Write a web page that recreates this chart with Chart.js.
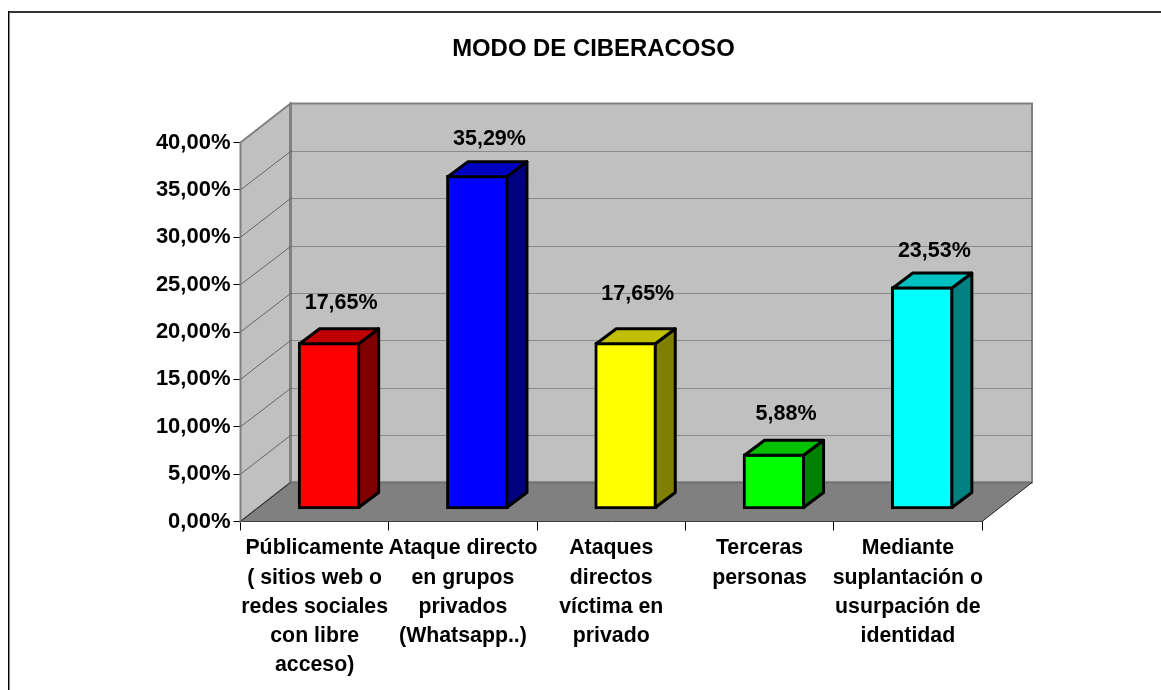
<!DOCTYPE html>
<html>
<head>
<meta charset="utf-8">
<script src="https://cdn.jsdelivr.net/npm/chart.js@4"></script>
<style>
html, body { margin: 0; padding: 0; background: #fff; }
#wrap { position: absolute; left: 0; top: 0; width: 1161px; height: 690px; }
</style>
</head>
<body>
<div id="wrap"><canvas id="ciberacoso" width="1161" height="690"></canvas></div>
<script>
const categories = [
    ['Públicamente', '( sitios web o', 'redes sociales', 'con libre', 'acceso)'],
    ['Ataque directo', 'en grupos', 'privados', '(Whatsapp..)'],
    ['Ataques', 'directos', 'víctima en', 'privado'],
    ['Terceras', 'personas'],
    ['Mediante', 'suplantación o', 'usurpación de', 'identidad']
];
const values = [17.65, 35.29, 17.65, 5.88, 23.53];
const frontColors = ['#ff0000', '#0000ff', '#ffff00', '#00ff00', '#00ffff'];
const topColors = ['#c00000', '#0000c0', '#c0c000', '#00c000', '#00c0c0'];
const sideColors = ['#800000', '#000080', '#808000', '#008000', '#008080'];
const yTicks = [0, 5, 10, 15, 20, 25, 30, 35, 40];

// Etiketit eivät ole samalla korkeudella pylväisiin nähden alkuperäisessä kuvassa
const labelRise = [39.5, 36.5, 48.5, 39.5, 35.5];

const fontFamily = '"Liberation Sans", Arial, sans-serif';
const formatPct = v => v.toFixed(2).replace('.', ',') + '%';

const wallDepth = { x: 50, y: -39 };
const barShift = { x: 14.5, y: -12 };
const barDepth = { x: 20, y: -15 };

function poly(ctx, pts, fill, stroke, lineWidth) {
    ctx.beginPath();
    pts.forEach((p, i) => i ? ctx.lineTo(p[0], p[1]) : ctx.moveTo(p[0], p[1]));
    ctx.closePath();
    if (fill) { ctx.fillStyle = fill; ctx.fill(); }
    if (stroke) { ctx.strokeStyle = stroke; ctx.lineWidth = lineWidth; ctx.stroke(); }
}

function line(ctx, x1, y1, x2, y2, color, width, dash) {
    ctx.beginPath();
    ctx.setLineDash(dash || []);
    ctx.moveTo(x1, y1);
    ctx.lineTo(x2, y2);
    ctx.strokeStyle = color;
    ctx.lineWidth = width;
    ctx.stroke();
    ctx.setLineDash([]);
}

// Seinät, lattia, kehys ja otsikko piirretään ennen pylväitä
const wallsPlugin = {
    id: 'walls',
    beforeDatasetsDraw(chart) {
        const { ctx, chartArea: a, scales: { y } } = chart;
        const dx = wallDepth.x, dy = wallDepth.y;
        ctx.save();

        // ulkokehys: vain vasen ja ylä reuna näkyvät kuvassa
        ctx.fillStyle = '#333';
        ctx.fillRect(8, 11, 1153, 2);
        ctx.fillStyle = '#000';
        ctx.fillRect(8, 11, 1, 679);
        ctx.fillStyle = '#888';
        ctx.fillRect(9, 13, 1, 677);

        ctx.fillStyle = '#000';
        ctx.font = 'bold 23.9px ' + fontFamily;
        ctx.textAlign = 'center';
        ctx.textBaseline = 'middle';
        ctx.fillText('MODO DE CIBERACOSO', 593.5, 49);

        const top = y.getPixelForValue(40), bottom = y.getPixelForValue(0);
        poly(ctx, [[a.left + dx, top + dy], [a.right + dx, top + dy], [a.right + dx, bottom + dy], [a.left + dx, bottom + dy]], '#c0c0c0', '#808080', 2);
        poly(ctx, [[a.left, top], [a.left + dx, top + dy], [a.left + dx, bottom + dy], [a.left, bottom]], '#c0c0c0', '#808080', 2);
        line(ctx, a.left + dx, top + dy, a.left + dx, bottom + dy, '#808080', 3);

        yTicks.slice(1, -1).forEach(v => {
            const py = y.getPixelForValue(v);
            const backY = Math.round(py + dy) + 0.5;
            line(ctx, a.left, py, a.left + dx, backY, '#666666', 1);
            line(ctx, a.left + dx, backY, a.right + dx, backY, '#555555', 1, [1, 1]);
        });

        poly(ctx, [[a.left, bottom], [a.left + dx, bottom + dy], [a.right + dx, bottom + dy], [a.right, bottom]], '#808080');
        line(ctx, a.left + dx, bottom + dy, a.right + dx, bottom + dy, '#737373', 2);
        line(ctx, a.left, bottom, a.left + dx, bottom + dy, '#222', 1);
        line(ctx, a.right, bottom, a.right + dx, bottom + dy, '#222', 1);
        ctx.restore();
    },
    beforeDatasetDraw(chart) {
        chart.ctx.save();
        chart.ctx.translate(barShift.x, barShift.y);
    },
    afterDatasetDraw(chart, args) {
        const ctx = chart.ctx;
        args.meta.data.forEach((bar, i) => {
            const l = bar.x - bar.width / 2 + 1.5, r = bar.x + bar.width / 2 - 1.5;
            const t = bar.y + 1.5, b = bar.base - 1.5;
            const ox = barDepth.x, oy = barDepth.y;
            ctx.lineJoin = 'round';
            poly(ctx, [[r, t], [r + ox, t + oy], [r + ox, b + oy], [r, b]], sideColors[i], '#000', 3);
            poly(ctx, [[l, t], [l + ox, t + oy], [r + ox, t + oy], [r, t]], topColors[i], '#000', 3);
        });
        ctx.restore();

        ctx.save();
        ctx.fillStyle = '#000';
        ctx.font = 'bold 21.5px ' + fontFamily;
        ctx.textAlign = 'center';
        ctx.textBaseline = 'middle';
        args.meta.data.forEach((bar, i) => {
            ctx.fillText(formatPct(values[i]), bar.x + barShift.x + 12, bar.y + barShift.y - labelRise[i]);
        });
        ctx.restore();
    }
};

new Chart(document.getElementById('ciberacoso').getContext('2d'), {
    type: 'bar',
    data: {
        labels: categories,
        datasets: [{
            data: values,
            backgroundColor: frontColors,
            borderColor: '#000',
            borderWidth: 3,
            borderSkipped: false,
            barThickness: 62,
            clip: false
        }]
    },
    plugins: [wallsPlugin],
    options: {
        responsive: false,
        animation: false,
        layout: { padding: { top: 142.5, right: 179, left: 0, bottom: 0 } },
        plugins: { legend: { display: false }, title: { display: false }, tooltip: { enabled: false } },
        scales: {
            x: {
                afterFit(scale) { scale.height = 168.5; },
                border: { color: '#000', width: 1 },
                grid: { drawOnChartArea: false, tickLength: 9, color: '#000', offset: true },
                ticks: { color: '#000', maxRotation: 0, autoSkip: false, padding: 3.5, font: { family: fontFamily, weight: 'bold', size: 21.3, lineHeight: 1.37 } }
            },
            y: {
                min: 0,
                max: 40,
                afterFit(scale) { scale.width = 240.5; },
                border: { color: '#000', width: 1 },
                afterBuildTicks(scale) { scale.ticks = yTicks.map(value => ({ value })); },
                grid: { drawOnChartArea: false, tickLength: 7, color: '#000' },
                ticks: { color: '#000', padding: 3, callback: formatPct, font: { family: fontFamily, weight: 'bold', size: 22 } }
            }
        }
    }
});
</script>
</body>
</html>
